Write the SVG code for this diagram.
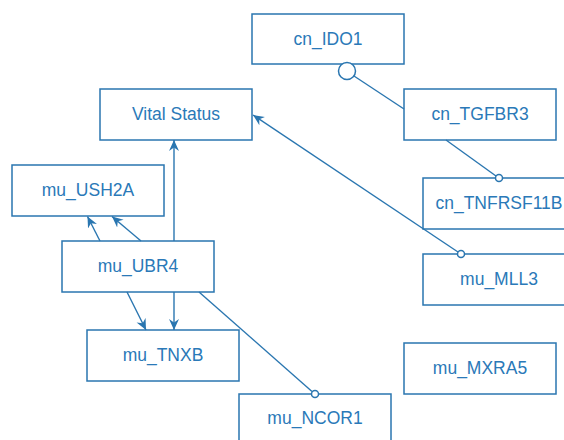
<svg xmlns="http://www.w3.org/2000/svg" width="564" height="440" viewBox="0 0 564 440">
<defs>
<style>
.node rect{fill:#fff;stroke:#2a76b0;stroke-width:1.5}
.node text{font-family:"Liberation Sans",Arial,sans-serif;font-size:17.5px;fill:#2a79b8;text-anchor:middle}
.edge{stroke:#2a76b0;stroke-width:1.4;fill:none}
.dot{fill:#fff;stroke:#2a76b0;stroke-width:1.5}
</style>
<marker id="arr" viewBox="-11 -6 12 12" refX="0" refY="0" markerWidth="12" markerHeight="12" markerUnits="userSpaceOnUse" orient="auto">
<path d="M0,0 L-11,-5 L-7.5,0 L-11,5 z" fill="#2a76b0"/>
</marker>
</defs>
<rect width="564" height="440" fill="#fff"/>
<g id="cn_IDO1" class="node"><rect x="252" y="14" width="152" height="50"/><text x="328" y="44.5">cn_IDO1</text></g>
<g id="vital_status" class="node"><rect x="100" y="89" width="152" height="51"/><text x="176" y="119.5">Vital Status</text></g>
<g id="cn_TGFBR3" class="node"><rect x="404" y="89" width="152" height="51"/><text x="480" y="119.5">cn_TGFBR3</text></g>
<g id="mu_USH2A" class="node"><rect x="12" y="165" width="152" height="51"/><text x="88" y="195.5">mu_USH2A</text></g>
<g id="cn_TNFRSF11B" class="node"><rect x="423" y="178" width="152" height="51"/><text x="499" y="208.5">cn_TNFRSF11B</text></g>
<g id="mu_UBR4" class="node"><rect x="62" y="241" width="152" height="51"/><text x="138" y="271.5">mu_UBR4</text></g>
<g id="mu_MLL3" class="node"><rect x="423" y="254" width="152" height="51"/><text x="499" y="284.5">mu_MLL3</text></g>
<g id="mu_TNXB" class="node"><rect x="87" y="330" width="152" height="51"/><text x="163" y="360.5">mu_TNXB</text></g>
<g id="mu_MXRA5" class="node"><rect x="404" y="343" width="152" height="51"/><text x="480" y="373.5">mu_MXRA5</text></g>
<g id="mu_NCOR1" class="node"><rect x="239" y="394" width="152" height="51"/><text x="315" y="424">mu_NCOR1</text></g>
<g id="connectors">
<line class="edge" x1="354" y1="76" x2="404" y2="109"/>
<circle class="dot" cx="347" cy="71" r="8.5"/>
<line class="edge" x1="446" y1="140" x2="496" y2="176"/>
<circle class="dot" cx="499" cy="178" r="3.5"/>
<line class="edge" x1="458" y1="252" x2="253" y2="115" marker-end="url(#arr)"/>
<circle class="dot" cx="461" cy="254" r="3.5"/>
<line class="edge" x1="174" y1="241" x2="174" y2="140" marker-end="url(#arr)"/>
<line class="edge" x1="100" y1="241" x2="87.5" y2="216.5" marker-end="url(#arr)"/>
<line class="edge" x1="141" y1="241" x2="112" y2="216.5" marker-end="url(#arr)"/>
<line class="edge" x1="127" y1="292" x2="146" y2="330" marker-end="url(#arr)"/>
<line class="edge" x1="174" y1="292" x2="174" y2="330" marker-end="url(#arr)"/>
<line class="edge" x1="199" y1="292" x2="312" y2="391.5"/>
<circle class="dot" cx="315" cy="394" r="3.5"/>
</g>
</svg>
